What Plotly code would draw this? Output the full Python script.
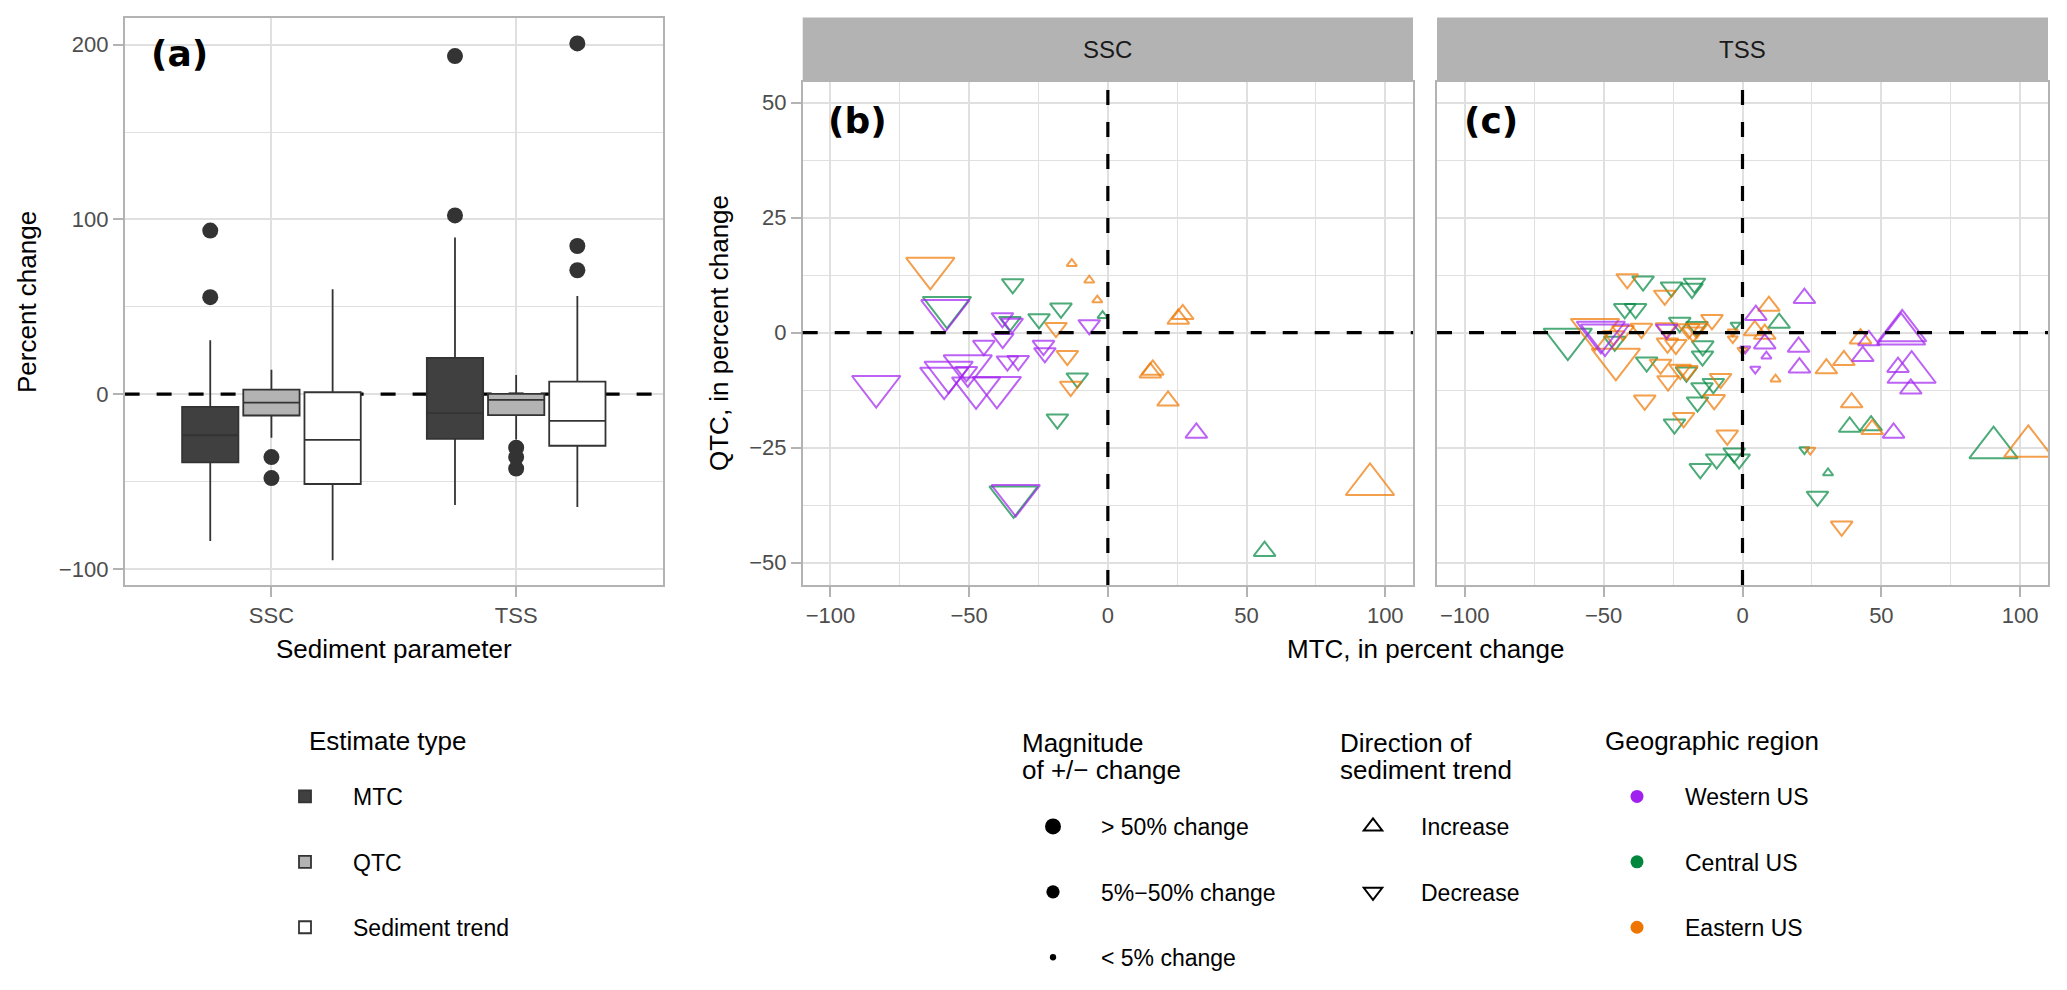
import plotly.graph_objects as go

# ---------------- Panel (a): box-plot statistics (percent change) ----------------
params = ["SSC", "TSS"]
estimate_types = ["MTC", "QTC", "Sediment trend"]

mtc_q1 = [-39.0, -25.6]
mtc_median = [-23.5, -10.9]
mtc_q3 = [-7.3, 20.8]
mtc_lower = [-84.0, -63.4]
mtc_upper = [30.8, 89.7]
mtc_out_ssc = [93.6, 55.5]
mtc_out_tss = [193.5, 102.3]

qtc_q1 = [-12.2, -12.0]
qtc_median = [-4.8, -3.3]
qtc_q3 = [2.6, 0.2]
qtc_lower = [-25.0, -26.0]
qtc_upper = [14.0, 11.0]
qtc_out_ssc = [-36.0, -48.0]
qtc_out_tss = [-30.6, -36.0, -42.6]

trend_q1 = [-51.4, -29.5]
trend_median = [-26.2, -15.3]
trend_q3 = [1.1, 7.2]
trend_lower = [-95.0, -64.5]
trend_upper = [60.0, 56.2]
trend_out_ssc = []
trend_out_tss = [200.7, 84.8, 70.9]

# ---------------- Panel (b): SSC sites ----------------
# region: W = Western US, C = Central US, E = Eastern US
# direction: I = Increase, D = Decrease ; magnitude: L = >50%, M = 5-50%, S = <5%
ssc_mtc = [-64, -58, -58.6, -83.5, -38, -35.3, -34.5, -34.3, -24.8, -16.9, -18.7, -6.7,
           -13, -6.7, -3.8, -1.9, -44.7, -37.9, -23.2, -22.7, -14.6, -36.2, -32.3,
           -59, -57.4, -50.5, -47.5, -40, -51, -33.2, -34, -18.2, -11, -13.4,
           25.4, 27, 15.3, 16.2, 21.7, 31.9, 94.5, 56.5]
ssc_qtc = [14, 5.5, 4.8, -11.7, 3.2, 2.4, 2.0, 10.6, 3.0, 5.3, 1.1, 1.7,
           15, 11.4, 7.1, 3.7, -2.8, -1.3, -2.8, -4.4, -5, -6.2, -6.1,
           -9.9, -8.6, -7.2, -12, -11.9, -8.5, -35.4, -35.7, -18.8, -9.9, -11.7,
           3.0, 4.0, -8.7, -8.1, -14.8, -21.8, -33, -47.5]
ssc_region = ["E", "C", "W", "W", "W", "C", "W", "C", "C", "C", "E", "W",
              "E", "E", "E", "C", "W", "W", "W", "W", "E", "W", "W",
              "W", "W", "W", "W", "W", "W", "W", "C", "C", "C", "E",
              "E", "E", "E", "E", "E", "W", "E", "C"]
ssc_direction = ["D", "D", "D", "D", "D", "D", "D", "D", "D", "D", "D", "D",
                 "I", "I", "I", "I", "D", "D", "D", "D", "D", "D", "D",
                 "D", "D", "D", "D", "D", "D", "D", "D", "D", "D", "D",
                 "I", "I", "I", "I", "I", "I", "I", "I"]
ssc_magnitude = ["L", "L", "L", "L", "M", "M", "M", "M", "M", "M", "M", "M",
                 "S", "S", "S", "S", "M", "M", "M", "M", "M", "M", "M",
                 "L", "L", "L", "L", "L", "M", "L", "L", "M", "M", "M",
                 "M", "M", "M", "M", "M", "M", "L", "M"]

# ---------------- Panel (c): TSS sites ----------------
tss_mtc = [-41.5, -35.8, -25.6, -28, -17.3, -18.2, -42.4, -38.5, -53.1, -51, -49.5, -62.9,
           -45.6, -46.4, -43, -46, -36.4, -34.5, -35.2, -29.5, -26.8, -27.4, -27, -24,
           -19.4, -17.8, -16.5, -27.3, -22.6, -16.4, -14.3, -14.4, -22.4, -20, -20.2, -14.6,
           -16.2, -10.5, -7.9, -10.2, -24.5, -21.2, -5.5, -15.2, -9.3, -3, -1.2,
           -3.5, 0, -2.5, -3.5, -11, 1,
           9.5, 4.8, 13.2, 4.4, 8, 8, 8.6, 4.6, 11.9, 22.3, 20.2, 20.5, 30.2, 36.5, 43.3,
           42.5, 45.5, 57.1, 57.5, 56, 60.9, 60.6, 39.3, 38.6, 46.3, 46.7, 54.4, 90.4, 102.9,
           22.3, 24.4, 30.8, 27, 35.7]
tss_qtc = [11.7, 11.2, 9.9, 8.1, 10.7, 9.6, 5.2, 5.2, 0.7, 0.1, -0.5, -1.4,
           -5.8, -0.7, 0.4, -1.9, 0.9, -6.4, -14.7, -6.9, -10.5, 1.0, -2.3, -2.6,
           0.8, 0.1, 0.9, 0.7, 2.2, 1.3, -2.9, -5.1, -8, -8.3, -8.6, -12,
           -15.1, -11.1, -10, -14.6, -19.9, -18.5, -22.3, -29.6, -27.5, -26.2, -27.5,
           0.2, -3.8, 1.7, -1.3, 2.8, -3.5,
           5.8, 3.8, 2.1, 0.5, -2.4, -0.3, -5.1, -7.9, -10.1, 7.5, -3.1, -7.6, -7.8, -6, -5.1,
           -1.3, -1.7, -0.3, 0.4, -7.5, -8.6, -12.2, -15.2, -20.5, -20.2, -21, -21.8, -25, -24.7,
           -25.4, -25.5, -30.5, -35.6, -42.1]
tss_region = ["E", "C", "C", "E", "C", "C", "C", "C", "E", "W", "W", "C",
              "E", "E", "E", "C", "E", "C", "E", "E", "E", "E", "E", "E",
              "E", "E", "E", "W", "C", "C", "C", "C", "E", "E", "C", "C",
              "C", "C", "E", "E", "C", "E", "E", "C", "C", "C", "C",
              "E", "E", "C", "E", "E", "W",
              "E", "W", "C", "E", "W", "E", "W", "W", "E", "W", "W", "W", "E", "E", "W",
              "E", "W", "W", "W", "W", "W", "W", "E", "C", "C", "E", "W", "C", "E",
              "C", "E", "C", "C", "E"]
tss_direction = ["D"] * 53 + ["I", "I", "I", "I", "I", "I", "I", "D", "I", "I", "I", "I", "I", "I", "I",
                              "I", "I", "I", "I", "I", "I", "I", "I", "I", "I", "I", "I", "I", "I",
                              "D", "D", "I", "D", "D"]
tss_magnitude = ["M", "M", "M", "M", "M", "M", "M", "M", "L", "L", "L", "L",
                 "L", "M", "M", "M", "M", "M", "M", "M", "M", "M", "M", "M",
                 "M", "M", "M", "M", "M", "M", "M", "M", "M", "M", "M", "M",
                 "M", "M", "M", "M", "M", "M", "M", "M", "M", "M", "M",
                 "S", "S", "S", "S", "M", "S",
                 "M", "M", "M", "M", "M", "M", "S", "S", "S", "M", "M", "M", "M", "M", "M",
                 "M", "M", "L", "L", "M", "L", "M", "M", "M", "M", "M", "M", "L", "L",
                 "S", "S", "S", "M", "M"]

region_names = {"W": "Western US", "C": "Central US", "E": "Eastern US"}
region_colors = {"W": "#A020F0", "C": "#00873E", "E": "#EE7600"}
direction_names = {"I": "Increase", "D": "Decrease"}
direction_symbols = {"I": "triangle-up-open", "D": "triangle-down-open"}
magnitude_names = {"L": "> 50% change", "M": "5%\u221250% change", "S": "< 5% change"}
magnitude_sizes = {"L": 42, "M": 19, "S": 9}

FONT = "Liberation Sans, Arial, Helvetica, sans-serif"
TICK_COLOR = "#4d4d4d"
GRID = "#e0e0e0"
BORDER = "#b3b3b3"
XA_RANGE = [-0.6, 1.6]

fig = go.Figure()

# ---------------- Panel (a) boxes ----------------
box_stats = {
    "MTC": (mtc_q1, mtc_median, mtc_q3, mtc_lower, mtc_upper, [mtc_out_ssc, mtc_out_tss]),
    "QTC": (qtc_q1, qtc_median, qtc_q3, qtc_lower, qtc_upper, [qtc_out_ssc, qtc_out_tss]),
    "Sediment trend": (trend_q1, trend_median, trend_q3, trend_lower, trend_upper,
                       [trend_out_ssc, trend_out_tss]),
}
box_fill = {"MTC": "#404040", "QTC": "#b3b3b3", "Sediment trend": "#ffffff"}
dodge = {"MTC": -0.25, "QTC": 0.0, "Sediment trend": 0.25}

for et in estimate_types:
    q1, med, q3, lo, hi, outs = box_stats[et]
    xs = [i + dodge[et] for i in range(len(params))]
    fig.add_trace(go.Box(
        x=xs, q1=q1, median=med, q3=q3, lowerfence=lo, upperfence=hi,
        name=et, fillcolor=box_fill[et], line=dict(color="#333333", width=1.8),
        width=0.23, whiskerwidth=0, boxpoints=False,
        xaxis="x", yaxis="y", legend="legend", legendgroup=et, hoverinfo="skip"))
    ox, oy = [], []
    for i, vals in enumerate(outs):
        for v in vals:
            ox.append(i + dodge[et])
            oy.append(v)
    fig.add_trace(go.Scatter(
        x=ox, y=oy, mode="markers", marker=dict(color="#333333", size=16),
        showlegend=False, xaxis="x", yaxis="y", hoverinfo="skip"))

# ---------------- Panels (b) and (c) scatter ----------------
def add_panel(mtc, qtc, reg, dirn, mag, xa, ya):
    for r in ["C", "E", "W"]:
        idx = [k for k in range(len(mtc)) if reg[k] == r]
        fig.add_trace(go.Scatter(
            x=[mtc[k] for k in idx], y=[qtc[k] for k in idx], mode="markers",
            marker=dict(symbol=[direction_symbols[dirn[k]] for k in idx],
                        size=[magnitude_sizes[mag[k]] for k in idx],
                        color=region_colors[r],
                        line=dict(width=2, color=region_colors[r])),
            showlegend=False, xaxis=xa, yaxis=ya, hoverinfo="skip"))

add_panel(ssc_mtc, ssc_qtc, ssc_region, ssc_direction, ssc_magnitude, "x2", "y2")
add_panel(tss_mtc, tss_qtc, tss_region, tss_direction, tss_magnitude, "x3", "y3")

# ---------------- legend-only entries ----------------
for m in ["L", "M", "S"]:
    fig.add_trace(go.Scatter(
        x=[None], y=[None], mode="markers", name=magnitude_names[m],
        marker=dict(color="black", size=magnitude_sizes[m] * 0.7, symbol="circle"),
        legend="legend2", legendgroup="mag" + m, xaxis="x2", yaxis="y2"))
for d in ["I", "D"]:
    fig.add_trace(go.Scatter(
        x=[None], y=[None], mode="markers", name=direction_names[d],
        marker=dict(color="black", size=16, symbol=direction_symbols[d], line=dict(width=2)),
        legend="legend3", legendgroup="dir" + d, xaxis="x2", yaxis="y2"))
for r in ["W", "C", "E"]:
    fig.add_trace(go.Scatter(
        x=[None], y=[None], mode="markers", name=region_names[r],
        marker=dict(color=region_colors[r], size=13, symbol="circle"),
        legend="legend4", legendgroup="reg" + r, xaxis="x2", yaxis="y2"))

W, H = 2067, 990
PA_X = [124.6 / W, 663 / W]
PB_X = [802.7 / W, 1413 / W]
PC_X = [1437 / W, 2048 / W]
Y_A = [1 - 585 / H, 1 - 17.6 / H]
Y_BC = [1 - 585 / H, 1 - 82 / H]

axis_common = dict(
    showgrid=True, gridcolor=GRID, gridwidth=1.6, zeroline=False,
    showline=True, linecolor=BORDER, linewidth=1.6, mirror=True,
    ticks="outside", ticklen=10, tickwidth=1.6, tickcolor=BORDER,
    tickfont=dict(family=FONT, size=22, color=TICK_COLOR),
)
minor_grid = dict(showgrid=True, gridcolor=GRID, gridwidth=0.9, ticks="")

fig.update_layout(
    width=W, height=H, margin=dict(l=0, r=0, t=0, b=0, autoexpand=False),
    paper_bgcolor="white", plot_bgcolor="white",
    font=dict(family=FONT, color="black"),
    showlegend=True,
    xaxis=dict(domain=PA_X, range=XA_RANGE, tickvals=[0, 1], ticktext=params,
               anchor="y", **axis_common),
    yaxis=dict(domain=Y_A, range=[-109.2, 215.5], tickvals=[-100, 0, 100, 200],
               anchor="x", minor=dict(dtick=50, **minor_grid), **axis_common),
    xaxis2=dict(domain=PB_X, range=[-110, 110], tickvals=[-100, -50, 0, 50, 100],
                anchor="y2", minor=dict(dtick=25, **minor_grid), **axis_common),
    yaxis2=dict(domain=Y_BC, range=[-54.85, 54.5], tickvals=[-50, -25, 0, 25, 50],
                anchor="x2", minor=dict(dtick=12.5, **minor_grid), **axis_common),
    xaxis3=dict(domain=PC_X, range=[-110, 110], tickvals=[-100, -50, 0, 50, 100],
                anchor="y3", minor=dict(dtick=25, **minor_grid), **axis_common),
    yaxis3=dict(domain=Y_BC, range=[-54.85, 54.5], tickvals=[-50, -25, 0, 25, 50],
                anchor="x3", matches="y2", minor=dict(dtick=12.5, **minor_grid),
                **{**axis_common, "ticks": "", "showticklabels": False}),
)

legend_common = dict(
    orientation="v", xanchor="left", yanchor="top", bgcolor="rgba(0,0,0,0)",
    borderwidth=0, font=dict(family=FONT, size=23, color="black"),
    itemwidth=86, tracegroupgap=32.5, itemclick=False, itemdoubleclick=False,
)
fig.update_layout(
    legend=dict(x=257 / W, y=1 - 775 / H, **legend_common),
    legend2=dict(x=1005 / W, y=1 - 805 / H, **legend_common),
    legend3=dict(x=1325 / W, y=1 - 805 / H, **legend_common),
    legend4=dict(x=1589 / W, y=1 - 775 / H, **legend_common),
)

# ---------------- reference lines, strips, labels ----------------
dash = dict(color="black", width=3.2, dash="15px,17px")
shapes = []
for xr in ["x2 domain", "x3 domain"]:
    shapes.append(dict(type="rect", xref=xr, x0=0, x1=1, yref="paper",
                       y0=1 - 82 / H, y1=1 - 17.6 / H, fillcolor="#b3b3b3",
                       line=dict(width=0), layer="above"))
shapes += [
    dict(type="line", xref="x2 domain", x0=0, x1=1, yref="y2", y0=0, y1=0, line=dash, layer="above"),
    dict(type="line", xref="x2", x0=0, x1=0, yref="y2 domain", y0=0, y1=1, line=dash, layer="above"),
    dict(type="line", xref="x3 domain", x0=0, x1=1, yref="y3", y0=0, y1=0, line=dash, layer="above"),
    dict(type="line", xref="x3", x0=0, x1=0, yref="y3 domain", y0=0, y1=1, line=dash, layer="above"),
    # panel (a): dashed zero line sits above the grid but beneath the boxes
    dict(type="line", xref="x", x0=XA_RANGE[0], x1=XA_RANGE[1], yref="y", y0=0, y1=0,
         line=dash, layer="between"),
]
fig.update_layout(shapes=shapes)

label_font = dict(family="DejaVu Sans, Liberation Sans, Arial", size=36, color="black", weight="bold")
title_font = dict(family=FONT, size=26, color="black")
leg_title_font = dict(family=FONT, size=26, color="black")
strip_font = dict(family=FONT, size=24, color="#1a1a1a")


def txt(text, x, y, font, xref="paper", yref="paper", xanchor="center", angle=0):
    return dict(text=text, xref=xref, x=x, yref=yref, y=y, xanchor=xanchor,
                yanchor="middle", textangle=angle, showarrow=False, font=font)


ann = [
    txt("SSC", 0.5, 1 - 50 / H, strip_font, xref="x2 domain"),
    txt("TSS", 0.5, 1 - 50 / H, strip_font, xref="x3 domain"),
    txt("(a)", 0.045, 0.936, label_font, xref="x domain", yref="y domain", xanchor="left"),
    txt("(b)", 0.038, 0.924, label_font, xref="x2 domain", yref="y2 domain", xanchor="left"),
    txt("(c)", 0.041, 0.924, label_font, xref="x3 domain", yref="y3 domain", xanchor="left"),
    txt("Percent change", 27 / W, 1 - 302 / H, title_font, angle=-90),
    txt("Sediment parameter", 394 / W, 1 - 649 / H, title_font),
    txt("QTC, in percent change", 719 / W, 1 - 333 / H, title_font, angle=-90),
    txt("MTC, in percent change", 1425 / W, 1 - 649 / H, title_font),
    # legend titles
    txt("Estimate type", 307 / W, 1 - 741 / H, leg_title_font, xanchor="left"),
    txt("Magnitude", 1020 / W, 1 - 743 / H, leg_title_font, xanchor="left"),
    txt("of +/\u2212 change", 1020 / W, 1 - 770 / H, leg_title_font, xanchor="left"),
    txt("Direction of", 1338 / W, 1 - 743 / H, leg_title_font, xanchor="left"),
    txt("sediment trend", 1338 / W, 1 - 770 / H, leg_title_font, xanchor="left"),
    txt("Geographic region", 1603 / W, 1 - 741 / H, leg_title_font, xanchor="left"),
]
fig.update_layout(annotations=ann)

fig.write_html("out.html", config={"displayModeBar": False},
               post_script="document.body.style.margin='0px';")
